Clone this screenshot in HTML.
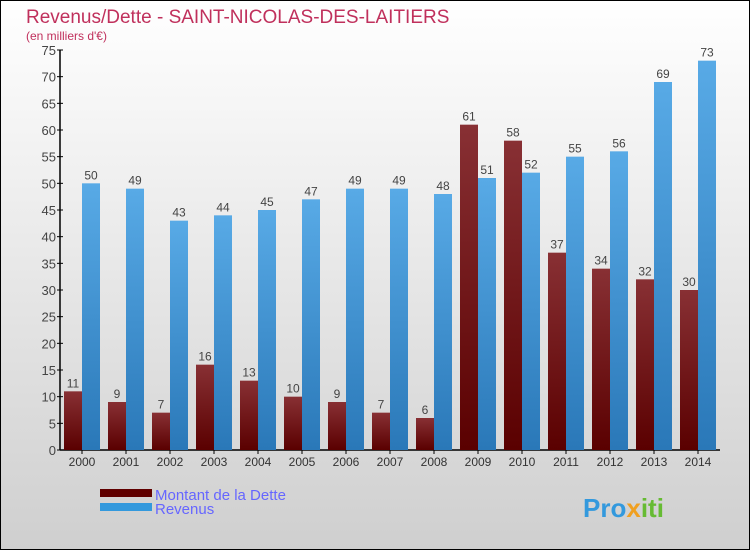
<!DOCTYPE html>
<html><head><meta charset="utf-8"><style>
body{margin:0}
#c{width:750px;height:550px;position:relative;font-family:"Liberation Sans",sans-serif;}
</style></head><body>
<div id="c">
<svg id="s" width="750" height="550" xmlns="http://www.w3.org/2000/svg">
<defs>
<linearGradient id="bg" x1="0" y1="0" x2="0" y2="1"><stop offset="0" stop-color="#ffffff"/><stop offset="1" stop-color="#cfcfcf"/></linearGradient>
<linearGradient id="gd" x1="0" y1="0" x2="0" y2="1"><stop offset="0" stop-color="#883034"/><stop offset="1" stop-color="#5a0000"/></linearGradient>
<linearGradient id="gr" x1="0" y1="0" x2="0" y2="1"><stop offset="0" stop-color="#58aae6"/><stop offset="1" stop-color="#2a78b8"/></linearGradient>
</defs>
<rect x="0.5" y="0.5" width="749" height="549" fill="url(#bg)" stroke="#000"/>
<text x="26" y="23" font-size="19" fill="#c0305c">Revenus/Dette - SAINT-NICOLAS-DES-LAITIERS</text>
<text x="26" y="40" font-size="12" fill="#c0305c">(en milliers d'€)</text>
<g id="plot"></g>
<rect x="100" y="489" width="52" height="8" fill="#600000"/>
<rect x="100" y="503" width="52" height="8" fill="#3399dd"/>
<text x="155" y="500" font-size="15" fill="#6666ff">Montant de la Dette</text>
<text x="155" y="514" font-size="15" fill="#6666ff">Revenus</text>
<text x="583" y="517" font-size="26" font-weight="bold" fill="#3399dd">Pro<tspan fill="#f0a020">x</tspan><tspan fill="#66bb33">iti</tspan></text>
</svg></div>
<script>
const years=["2000","2001","2002","2003","2004","2005","2006","2007","2008","2009","2010","2011","2012","2013","2014"];
const dette=[11,9,7,16,13,10,9,7,6,61,58,37,34,32,30];
const revenus=[50,49,43,44,45,47,49,49,48,51,52,55,56,69,73];
const yTicks=[0,5,10,15,20,25,30,35,40,45,50,55,60,65,70,75];
const NS="http://www.w3.org/2000/svg";
const g=document.getElementById('plot');
const x0=60,step=44,y0=450,yMax=75,yTop=50;
function y(v){return y0-v*(y0-yTop)/yMax;}
function cx(i){return x0+step/2+i*step;}
function mk(t,a,txt){const e=document.createElementNS(NS,t);for(const k in a)e.setAttribute(k,a[k]);if(txt!==undefined)e.textContent=txt;g.appendChild(e);return e;}
let e=mk('line',{x1:x0,y1:y0,x2:720,y2:y0,stroke:'#000','stroke-width':1.5});

e=mk('line',{x1:x0,y1:yTop,x2:x0,y2:y0,stroke:'#000','stroke-width':1.5});

yTicks.forEach(t=>{
 e=mk('line',{x1:x0-3,y1:y(t),x2:x0+3,y2:y(t),stroke:'#000'});
 
 e=mk('text',{x:x0-4,y:y(t)+5,'font-size':13,fill:'#444','text-anchor':'end'},t);
 
});
years.forEach((yr,i)=>{
 const c=cx(i);
 e=mk('line',{x1:c,y1:y0,x2:c,y2:y0+4,stroke:'#000'});
 
 e=mk('text',{x:c,y:y0+16,'font-size':12,fill:'#333','text-anchor':'middle'},yr);
 
 e=mk('rect',{x:c-18,y:y(dette[i]),width:18,height:y0-y(dette[i]),fill:'url(#gd)'});
 
 e=mk('rect',{x:c,y:y(revenus[i]),width:18,height:y0-y(revenus[i]),fill:'url(#gr)'});
 
 e=mk('text',{x:c-9,y:y(dette[i])-4,'font-size':12,fill:'#444','text-anchor':'middle'},dette[i]);
 
 e=mk('text',{x:c+9,y:y(revenus[i])-4,'font-size':12,fill:'#444','text-anchor':'middle'},revenus[i]);
 
});
</script>
</body></html>
